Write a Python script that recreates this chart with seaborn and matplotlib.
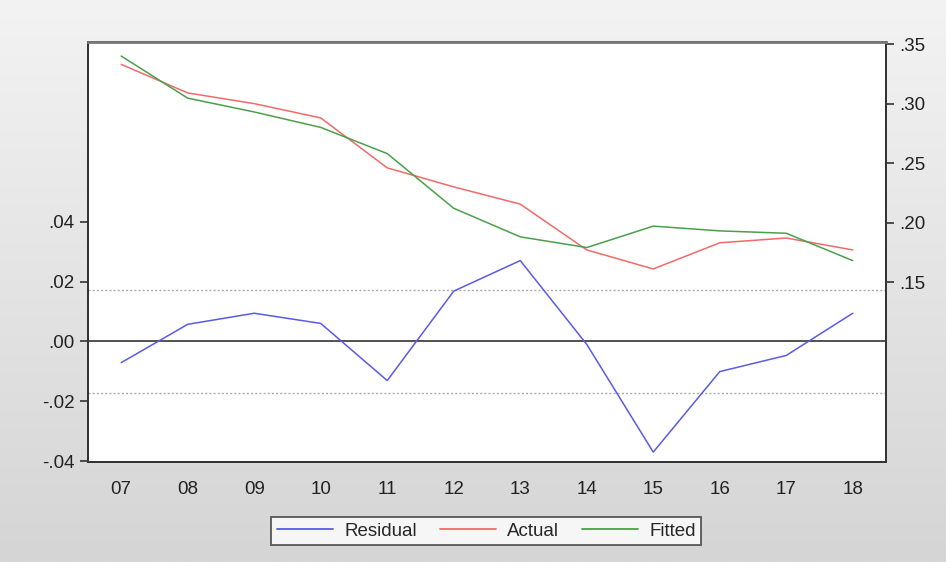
import numpy as np
import pandas as pd
import seaborn as sns
import matplotlib.pyplot as plt
from matplotlib.lines import Line2D

years = ["07", "08", "09", "10", "11", "12", "13", "14", "15", "16", "17", "18"]
actual = [0.333, 0.309, 0.300, 0.288, 0.246, 0.230, 0.2155, 0.177, 0.161, 0.183, 0.187, 0.177]
fitted = [0.340, 0.3046, 0.293, 0.280, 0.258, 0.212, 0.188, 0.179, 0.197, 0.193, 0.191, 0.168]
residual = [-0.0071, 0.0057, 0.0094, 0.0060, -0.0131, 0.0168, 0.0270, -0.0010, -0.0370, -0.0101, -0.0047, 0.0094]
sigma = 0.0172

left_ticks = [-0.04, -0.02, 0.00, 0.02, 0.04]
right_ticks = [0.15, 0.20, 0.25, 0.30, 0.35]

df = pd.DataFrame({"pos": np.arange(len(years)), "Residual": residual,
                   "Actual": actual, "Fitted": fitted})

c_res = "#5a5ae6"
c_act = "#f06a6a"
c_fit = "#4aa04a"

sns.set_style("white")
plt.rcParams["font.family"] = ["Liberation Sans", "DejaVu Sans"]

fig = plt.figure(figsize=(9.46, 5.62), dpi=100)

# grey gradient backdrop
bg = fig.add_axes([0, 0, 1, 1], zorder=-10)
grad = np.linspace(0, 1, 256).reshape(-1, 1)
bg.imshow(grad, aspect="auto", cmap=plt.matplotlib.colors.LinearSegmentedColormap.from_list(
    "g", ["#f3f3f3", "#d5d5d5"]), extent=[0, 1, 0, 1], origin="upper")
bg.axis("off")

ax = fig.add_axes([0.093, 0.178, 0.8436, 0.747])
ax.set_facecolor("white")

# residual on the left axis
sns.lineplot(data=df, x="pos", y="Residual", ax=ax, color=c_res, linewidth=1.1)
ax.axhline(0, color="#333333", linewidth=1.2, zorder=1)
for s in (sigma, -sigma):
    ax.axhline(s, color="#aaaaaa", linewidth=1.0, linestyle=(0, (1.5, 1.5)), zorder=1)

ax.set_xlim(-0.5, len(years) - 0.5)
ax.set_ylim(-0.0403, 0.100)
ax.set_yticks(left_ticks)
ax.set_yticklabels([f"{v:.2f}".replace("0.", ".") for v in left_ticks])
ax.set_xticks(np.arange(-0.5, len(years)))
ax.set_xticklabels([])
ax.set_xticks(np.arange(len(years)), minor=True)
ax.set_xticklabels(years, minor=True)
ax.tick_params(axis="x", which="major", direction="out", length=6, width=1.3, color="#333333")
ax.tick_params(axis="x", which="minor", length=0, pad=14, labelsize=13.5, labelcolor="#222222")
ax.tick_params(axis="y", direction="out", length=6, width=1.2, color="#333333",
               labelsize=13.5, labelcolor="#222222", left=True)
ax.set_xlabel("")
ax.set_ylabel("")

# actual and fitted on the right axis
ax2 = ax.twinx()
sns.lineplot(data=df, x="pos", y="Actual", ax=ax2, color=c_act, linewidth=1.1)
sns.lineplot(data=df, x="pos", y="Fitted", ax=ax2, color=c_fit, linewidth=1.1)
ax2.set_ylim(-0.0013, 0.3517)
ax2.set_yticks(right_ticks)
ax2.set_yticklabels([f"{v:.2f}".replace("0.", ".") for v in right_ticks])
ax2.tick_params(axis="y", direction="out", length=6, width=1.2, color="#333333",
                labelsize=13.5, labelcolor="#222222", right=True)
ax2.set_ylabel("")
ax2.set_xlim(-0.5, len(years) - 0.5)

for a in (ax, ax2):
    for name, sp in a.spines.items():
        sp.set_color("#333333")
        sp.set_linewidth(1.3)
ax2.spines["top"].set_color("#777777")
ax2.spines["top"].set_linewidth(2.0)

handles = [Line2D([], [], color=c_res, lw=1.3), Line2D([], [], color=c_act, lw=1.3),
           Line2D([], [], color=c_fit, lw=1.3)]
leg = fig.legend(handles, ["Residual", "Actual", "Fitted"], loc="center",
                 bbox_to_anchor=(0.514, 0.055), ncol=3, frameon=True, fancybox=False,
                 fontsize=13.5, handlelength=3.0, columnspacing=1.2, borderpad=0.3,
                 handletextpad=0.6)
leg.get_frame().set_edgecolor("#333333")
leg.get_frame().set_linewidth(1.3)
leg.get_frame().set_facecolor("white")

fig.savefig("out.png", dpi=100)
